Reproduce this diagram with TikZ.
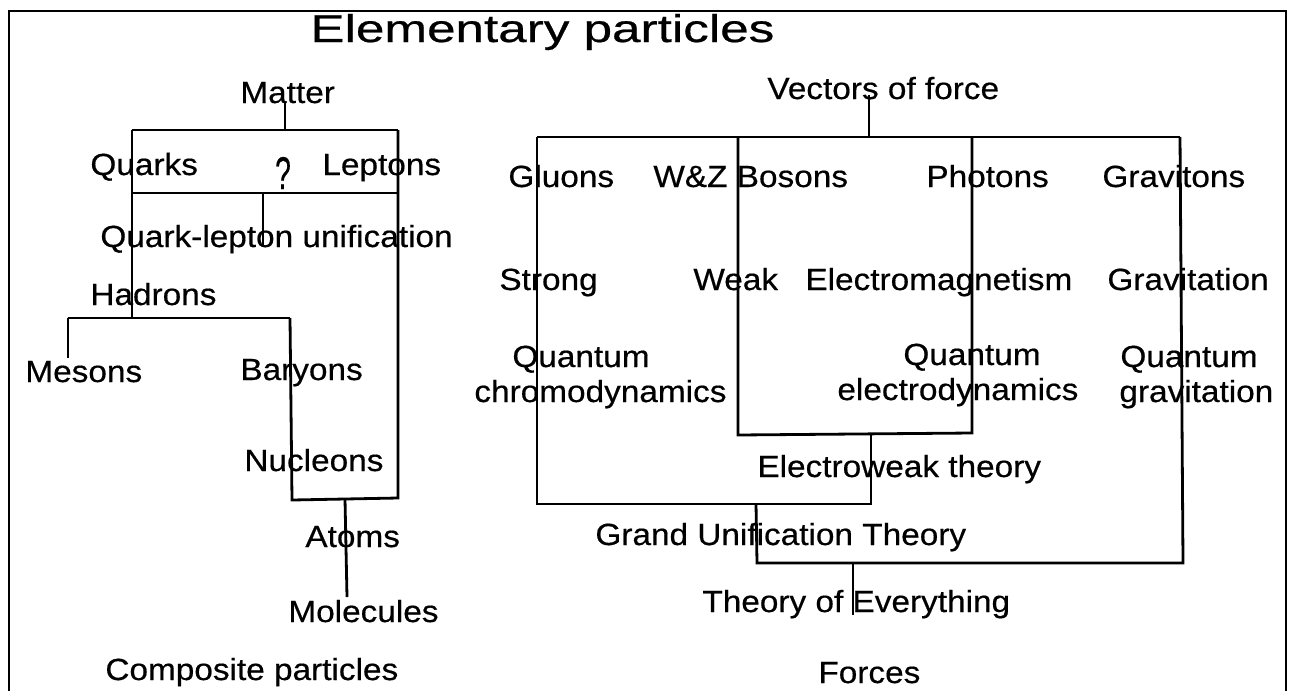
\documentclass[tikz,border=0pt]{standalone}
\usepackage{fontspec}
\setmainfont[FakeStretch=1.09,FakeBold=0.5]{Liberation Sans}
\newfontfamily\titlefont[FakeStretch=1.32,FakeBold=0.6]{Liberation Sans}
\begin{document}
\begin{tikzpicture}[x=0.5pt,y=-0.5pt,
  lab/.style={anchor=base west,inner sep=0pt,font=\fontsize{15.3}{18}\selectfont},
  ttl/.style={anchor=base west,inner sep=0pt,font=\titlefont\fontsize{19.4}{23}\selectfont},
  ln/.style={line width=1.4pt,line join=miter}]
\useasboundingbox (0,0) rectangle (1293,691);
% frame
\coordinate (fbl) at (9,691); \coordinate (ftl) at (9,11);
\coordinate (ftr) at (1286,11); \coordinate (fbr) at (1286,691);
\draw[ln] (fbl) -- (ftl) -- (ftr) -- (fbr);

% title
\node[ttl] (title) at (310,42) {Elementary particles};

% ---------- left tree: composite particles ----------
\node[lab] (matter) at (240,103) {Matter};
\node[lab] (quarks) at (90,175) {Quarks};
\node[anchor=base,inner sep=0pt,font=\fontsize{15.3}{18}\selectfont] (qm) at (283,189) {\scalebox{0.85}[1.5]{?}};
\node[lab] (leptons) at (322,175) {Leptons};
\node[lab] (qlu) at (100,247) {Quark-lepton unification};
\node[lab] (hadrons) at (90,305) {Hadrons};
\node[lab] (mesons) at (25,382) {Mesons};
\node[lab] (baryons) at (240,380) {Baryons};
\node[lab] (nucleons) at (244,471) {Nucleons};
\node[lab] (atoms) at (305,547) {Atoms};
\node[lab] (molecules) at (288,622) {Molecules};
\node[lab] (composite) at (105,680) {Composite particles};

\coordinate (m0) at (285,103); \coordinate (m1) at (285,130);
\coordinate (qtl) at (132,130); \coordinate (qtr) at (398,130);
\coordinate (qbl) at (132,193); \coordinate (qbr) at (398,193);
\coordinate (q0) at (263,193); \coordinate (q1) at (263,247);
\coordinate (h0) at (132,318); \coordinate (hl) at (68,318); \coordinate (hr) at (290,318);
\coordinate (me) at (68,358);
\coordinate (nbl) at (292,500); \coordinate (nbr) at (398,498);
\coordinate (a0) at (345,499); \coordinate (a1) at (347,597);

\draw[ln] (m0) -- (m1);
\draw[ln] (qtl) -- (qtr);
\draw[ln] (qbl) -- (qbr);
\draw[ln] (q0) -- (q1);
\draw[ln] (qtl) -- (h0);
\draw[ln] (hl) -- (hr);
\draw[ln] (hl) -- (me);
\draw[ln] (hr) -- (nbl) -- (nbr) -- (qtr);
\draw[ln] (a0) -- (a1);

% ---------- right tree: forces ----------
\node[lab] (vectors) at (767,99) {Vectors of force};
\node[lab] (gluons) at (508,187) {Gluons};
\node[lab] (wz) at (653,187) {W\&Z Bosons};
\node[lab] (photons) at (926,187) {Photons};
\node[lab] (gravitons) at (1102,187) {Gravitons};
\node[lab] (strong) at (499,290) {Strong};
\node[lab] (weak) at (693,290) {Weak};
\node[lab] (em) at (805,290) {Electromagnetism};
\node[lab] (gravitation) at (1107,290) {Gravitation};
\node[lab] (qcdA) at (512,367) {Quantum};
\node[lab] (qcdB) at (474,402) {chromodynamics};
\node[lab] (qedA) at (903,365) {Quantum};
\node[lab] (qedB) at (837,400) {electrodynamics};
\node[lab] (qgA) at (1120,367) {Quantum};
\node[lab] (qgB) at (1119,402) {gravitation};
\node[lab] (ew) at (757,477) {Electroweak theory};
\node[lab] (gut) at (595,545) {Grand Unification Theory};
\node[lab] (toe) at (702,612) {Theory of Everything};
\node[lab] (forces) at (818,683) {Forces};

\coordinate (v0) at (869,95); \coordinate (v1) at (869,137);
\coordinate (stl) at (537,137); \coordinate (gtr) at (1180,137);
\coordinate (itl) at (738,137); \coordinate (itr) at (972,137);
\coordinate (ibl) at (738,435); \coordinate (ibr) at (972,433);
\coordinate (e0) at (871,434);
\coordinate (sbl) at (537,504); \coordinate (sbr) at (871,504);
\coordinate (g0) at (756,504); \coordinate (g1) at (757,563);
\coordinate (gbr) at (1183,563);
\coordinate (t0) at (853,563); \coordinate (t1) at (853,615);

\draw[ln] (v0) -- (v1);
\draw[ln] (stl) -- (gtr);
\draw[ln] (itl) -- (ibl) -- (ibr) -- (itr);
\draw[ln] (stl) -- (sbl) -- (sbr) -- (e0);
\draw[ln] (g0) -- (g1) -- (gbr) -- (gtr);
\draw[ln] (t0) -- (t1);
\end{tikzpicture}
\end{document}
